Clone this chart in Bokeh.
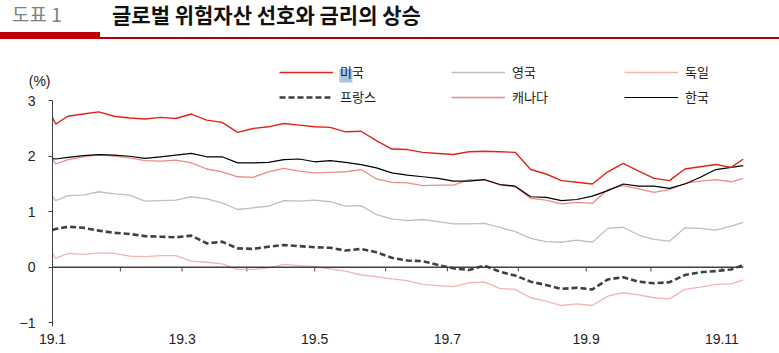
import numpy as np
from bokeh.plotting import figure
from bokeh.layouts import column
from bokeh.models import (Range1d, FixedTicker, Span, Legend, LegendItem,
                          Div, BoxAnnotation, LinearAxis)
from bokeh.embed import file_html
from bokeh.resources import INLINE

# ---------------- data (weekly readings, %) ----------------
dates = ["2019-01-02", "2019-01-03",
         "2019-01-09", "2019-01-16", "2019-01-23", "2019-01-30",
         "2019-02-06", "2019-02-13", "2019-02-20", "2019-02-27",
         "2019-03-06", "2019-03-13", "2019-03-20", "2019-03-27",
         "2019-04-03", "2019-04-10", "2019-04-17", "2019-04-24",
         "2019-05-01", "2019-05-08", "2019-05-15", "2019-05-22", "2019-05-29",
         "2019-06-05", "2019-06-12", "2019-06-19", "2019-06-26",
         "2019-07-03", "2019-07-10", "2019-07-17", "2019-07-24", "2019-07-31",
         "2019-08-07", "2019-08-14", "2019-08-21", "2019-08-28",
         "2019-09-04", "2019-09-11", "2019-09-18", "2019-09-25",
         "2019-10-02", "2019-10-09", "2019-10-16", "2019-10-23", "2019-10-30",
         "2019-11-06", "2019-11-12"]

us = [2.70, 2.58,
      2.72, 2.76, 2.80, 2.72, 2.69, 2.67, 2.70, 2.68, 2.76, 2.65,
      2.61, 2.43, 2.50, 2.53, 2.59, 2.56, 2.53, 2.52, 2.44, 2.45,
      2.28, 2.13, 2.12, 2.07, 2.05, 2.03, 2.08, 2.09, 2.08, 2.07,
      1.76, 1.68, 1.56, 1.53, 1.50, 1.72, 1.87, 1.73, 1.60, 1.56,
      1.77, 1.81, 1.85, 1.80, 1.95]
korea = [1.96, 1.95,
         1.98, 2.01, 2.03, 2.02, 2.00, 1.96, 1.99, 2.02, 2.05, 1.99,
         1.99, 1.88, 1.88, 1.89, 1.94, 1.95, 1.90, 1.92, 1.89, 1.85,
         1.79, 1.70, 1.66, 1.63, 1.60, 1.55, 1.55, 1.58, 1.49, 1.46,
         1.27, 1.26, 1.20, 1.22, 1.28, 1.38, 1.50, 1.46, 1.46, 1.42,
         1.50, 1.62, 1.76, 1.80, 1.83]
canada = [1.95, 1.86,
          1.94, 1.99, 2.03, 2.00, 1.97, 1.92, 1.91, 1.93, 1.88, 1.77,
          1.72, 1.63, 1.62, 1.72, 1.78, 1.73, 1.70, 1.71, 1.72, 1.76,
          1.59, 1.53, 1.52, 1.47, 1.48, 1.48, 1.58, 1.57, 1.49, 1.45,
          1.24, 1.21, 1.14, 1.17, 1.15, 1.40, 1.47, 1.41, 1.35, 1.40,
          1.51, 1.55, 1.58, 1.54, 1.60]
uk = [1.27, 1.20,
      1.29, 1.30, 1.36, 1.32, 1.30, 1.19, 1.20, 1.21, 1.27, 1.23,
      1.16, 1.04, 1.07, 1.10, 1.20, 1.19, 1.21, 1.18, 1.10, 1.11,
      0.95, 0.87, 0.84, 0.86, 0.82, 0.78, 0.78, 0.79, 0.72, 0.64,
      0.52, 0.46, 0.45, 0.49, 0.45, 0.70, 0.72, 0.58, 0.50, 0.47,
      0.71, 0.70, 0.67, 0.74, 0.81]
france = [0.67, 0.69,
          0.73, 0.71, 0.66, 0.62, 0.60, 0.56, 0.55, 0.54, 0.57, 0.43,
          0.46, 0.34, 0.33, 0.37, 0.40, 0.38, 0.36, 0.35, 0.30, 0.33,
          0.27, 0.17, 0.12, 0.11, 0.04, -0.02, -0.05, 0.03, -0.08, -0.15,
          -0.26, -0.32, -0.39, -0.37, -0.40, -0.22, -0.18, -0.26, -0.29, -0.27,
          -0.14, -0.09, -0.07, -0.04, 0.04]
germany = [0.24, 0.16,
           0.25, 0.23, 0.26, 0.25, 0.20, 0.19, 0.21, 0.21, 0.11, 0.09,
           0.06, -0.04, -0.04, -0.01, 0.05, 0.03, 0.01, -0.03, -0.07, -0.14,
           -0.17, -0.21, -0.24, -0.31, -0.33, -0.35, -0.28, -0.27, -0.38, -0.40,
           -0.55, -0.61, -0.69, -0.66, -0.69, -0.52, -0.46, -0.50, -0.55, -0.57,
           -0.40, -0.36, -0.31, -0.30, -0.23]

month_starts = ["2019-01-02", "2019-02-01", "2019-03-01", "2019-04-01", "2019-05-01",
                "2019-06-03", "2019-07-01", "2019-08-01", "2019-09-02", "2019-10-01",
                "2019-11-01"]
label_dates = ["2019-01-02", "2019-03-01", "2019-05-01", "2019-07-01", "2019-09-02",
               "2019-11-01"]
label_texts = ["19.1", "19.3", "19.5", "19.7", "19.9", "19.11"]
y_ticks = [-1, 0, 1, 2, 3]
y_tick_texts = ["\u22121", "0", "1", "2", "3"]
unit_text = "(%)"

series_names = ["미국", "영국", "독일", "프랑스", "캐나다", "한국"]

# ---------------- positions on a business-day axis ----------------
origin = np.datetime64("2019-01-02")
x = np.busday_count(origin, np.array(dates, dtype="datetime64[D]"))
tick_x = np.busday_count(origin, np.array(month_starts, dtype="datetime64[D]"))
lab_x = np.busday_count(origin, np.array(label_dates, dtype="datetime64[D]"))

FONT = "Liberation Sans"
KFONT = "Noto Sans CJK KR"

p = figure(width=779, height=305, output_backend="svg", toolbar_location=None,
           x_range=Range1d(0, int(x[-1])), y_range=Range1d(-1.068, 3.905),
           min_border_left=52, min_border_right=36, min_border_top=5,
           min_border_bottom=24, outline_line_color=None, margin=0,
           background_fill_color="white", border_fill_color="white")
p.xgrid.visible = False
p.ygrid.visible = False

# x axis: labels only (every two months)
p.xaxis.ticker = FixedTicker(ticks=[int(v) for v in lab_x])
p.xaxis.major_label_overrides = {int(v): t for v, t in zip(lab_x, label_texts)}
p.xaxis.axis_line_color = None
p.xaxis.major_tick_line_color = None
p.xaxis.minor_tick_line_color = None
p.xaxis.major_tick_out = 0
p.xaxis.major_tick_in = 0
p.xaxis.major_label_standoff = 7
p.xaxis.major_label_text_font = FONT
p.xaxis.major_label_text_font_size = "14px"
p.xaxis.major_label_text_color = "#222222"

# y axis
p.yaxis.ticker = FixedTicker(ticks=y_ticks)
p.yaxis.major_label_overrides = {v: t for v, t in zip(y_ticks, y_tick_texts)}
p.yaxis.bounds = (-1.068, 3)
p.yaxis.axis_line_color = "#404040"
p.yaxis.major_tick_line_color = "#404040"
p.yaxis.minor_tick_line_color = None
p.yaxis.major_tick_out = 4
p.yaxis.major_tick_in = 0
p.yaxis.major_label_standoff = 13
p.yaxis.major_label_text_font = FONT
p.yaxis.major_label_text_font_size = "14px"
p.yaxis.major_label_text_color = "#222222"

# unit label "(%)" above the value axis, drawn as a second (label-only) axis
unit_axis = LinearAxis(ticker=FixedTicker(ticks=[3.35]),
                       major_label_overrides={3.35: unit_text},
                       axis_line_color=None, major_tick_line_color=None,
                       minor_tick_line_color=None, major_tick_out=0, major_tick_in=0,
                       major_label_standoff=-34, major_label_text_font=FONT,
                       major_label_text_font_size="14px",
                       major_label_text_color="#222222")
p.add_layout(unit_axis, "left")

# zero line with monthly tick marks
p.add_layout(Span(location=0, dimension="width", line_color="#404040", line_width=1.6))
p.segment(x0=tick_x, y0=0, x1=tick_x, y1=-0.075, line_color="#404040", line_width=1)

# series
r_uk = p.line(x, uk, line_color="#BFBFBF", line_width=1.3)
r_de = p.line(x, germany, line_color="#F4B4B4", line_width=1.3)
r_ca = p.line(x, canada, line_color="#EE8A8A", line_width=1.3)
r_fr = p.line(x, france, line_color="#404040", line_width=2.6, line_dash="6 3")
r_kr = p.line(x, korea, line_color="#000000", line_width=1.2)
r_us = p.line(x, us, line_color="#E2231A", line_width=1.4)

# selection highlight behind the first legend character (as in the source image)
p.add_layout(BoxAnnotation(left=93.0, right=97.2, top=3.57, bottom=3.33,
                           fill_color="#A8C4E0", fill_alpha=1.0, line_color=None))

renderers = [r_us, r_uk, r_de, r_fr, r_ca, r_kr]
legend_pos = [(227, 245), (399, 245), (572, 245),
              (227, 220), (399, 220), (572, 220)]
for name, r, loc in zip(series_names, renderers, legend_pos):
    lg = Legend(items=[LegendItem(label=name, renderers=[r])], location=loc,
                padding=0, margin=0, border_line_color=None,
                background_fill_alpha=0, glyph_width=54, glyph_height=14,
                label_height=14, label_standoff=7, label_text_font=KFONT,
                label_text_font_size="13px", label_text_color="#222222",
                label_text_baseline="middle")
    p.add_layout(lg)

title_html = (
    '<div style="position:relative;width:779px;height:45px;">'
    '<span style="position:absolute;left:12px;top:0px;font-family:\'Noto Sans CJK KR\';'
    'font-size:19px;line-height:27px;color:#808080;white-space:nowrap;">도표 1</span>'
    '<span style="position:absolute;left:112px;top:0px;font-family:\'Noto Sans CJK KR\';'
    'font-size:21px;line-height:28px;font-weight:bold;color:#111111;white-space:nowrap;">'
    '글로벌 위험자산 선호와 금리의 상승</span>'
    '<div style="position:absolute;left:0px;top:32px;width:100px;height:7px;background:#C00000;"></div>'
    '<div style="position:absolute;left:100px;top:37px;width:679px;height:2px;background:#B00000;"></div>'
    '</div>'
)
title_div = Div(text=title_html, width=779, height=45, margin=0)
bottom_div = Div(text='<div style="width:779px;height:3px;background:#808080;"></div>',
                 width=779, height=3, margin=0)

layout = column(title_div, p, bottom_div, spacing=0, margin=0)
open("out.html", "w").write(file_html(layout, INLINE))
